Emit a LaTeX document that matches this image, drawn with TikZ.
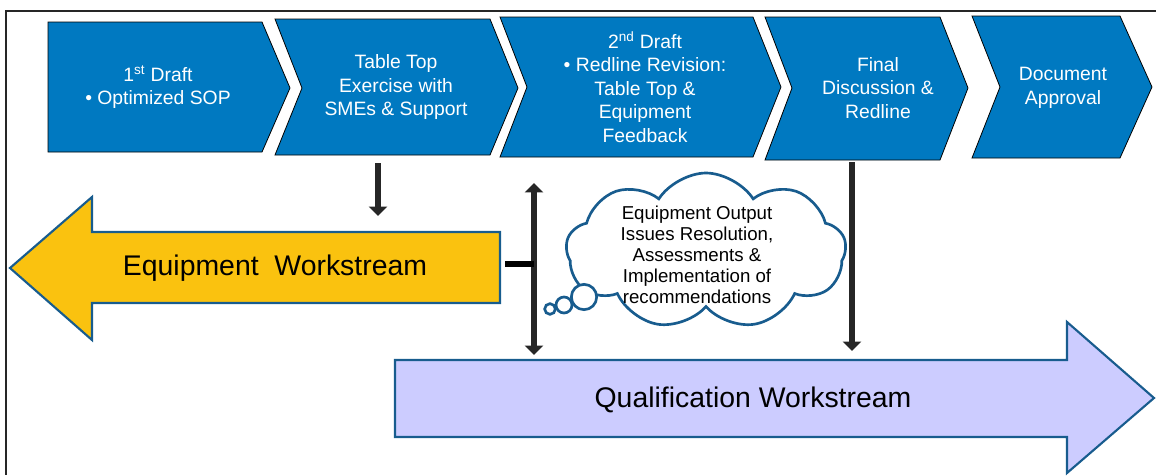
\documentclass[tikz,border=0pt]{standalone}
\usepackage{fontspec}
\setmainfont{Liberation Sans}
\usetikzlibrary{shapes.symbols,arrows.meta}
\definecolor{stepblue}{RGB}{0,121,193}
\definecolor{eqyellow}{RGB}{250,194,15}
\definecolor{qlav}{RGB}{204,204,255}
\definecolor{edgeblue}{RGB}{24,92,142}
\definecolor{darkarrow}{RGB}{38,38,38}
\tikzset{
  chev/.style={fill=stepblue,draw=black,line width=0.6pt,line join=miter},
  chevtext/.style={text=white,font=\fontsize{14.5}{17.6}\selectfont,align=center,inner sep=0pt},
  bigarrow/.style={draw=edgeblue,line width=1.6pt,line join=miter},
  bigtext/.style={font=\fontsize{21.3}{24}\selectfont,inner sep=0pt},
  flow/.style={draw=darkarrow,line width=4.5pt,-{Triangle[width=13.5pt,length=7pt]}},
  flowboth/.style={draw=darkarrow,line width=4.5pt,{Triangle[width=13.5pt,length=7pt]}-{Triangle[width=13.5pt,length=7pt]}},
  thought/.style={draw=edgeblue,line width=2pt,fill=white},
}
\begin{document}
\begin{tikzpicture}[x=0.75pt,y=-0.75pt]
\useasboundingbox (0,0) rectangle (1156,475);
% frame
\draw[line width=1.2pt,draw=black!85] (1156,11) -- (6,11) -- (6,475);

% process chevrons
\draw[chev] (48,22) -- (262,22) -- (290,88) -- (262,152) -- (48,152) -- cycle;
\draw[chev] (275,19) -- (490,19) -- (518,88) -- (490,155) -- (275,155) -- (302,88) -- cycle;
\draw[chev] (500,17) -- (753,17) -- (781,87) -- (753,157) -- (500,157) -- (527,87) -- cycle;
\draw[chev] (765,17) -- (940,17) -- (968,88) -- (940,160) -- (765,160) -- (792,88) -- cycle;
\draw[chev] (972,16) -- (1120,16) -- (1152,87) -- (1120,158) -- (972,158) -- (1000,87) -- cycle;

\node[chevtext] (c1) at (158,87) {1\textsuperscript{st} Draft\\\textbullet\ Optimized SOP};
\node[chevtext] (c2) at (396,87) {Table Top\\Exercise with\\SMEs \& Support};
\node[chevtext] (c3) at (645,87) {2\textsuperscript{nd} Draft\\\textbullet\ Redline Revision:\\Table Top \&\\Equipment\\Feedback};
\node[chevtext] (c4) at (878,88) {Final\\Discussion \&\\Redline};
\node[chevtext] (c5) at (1063,88) {Document\\Approval};

% equipment workstream (left arrow)
\draw[bigarrow,fill=eqyellow] (10,268) -- (92,197) -- (92,232) -- (500,232) -- (500,303) -- (92,303) -- (92,340) -- cycle;
\node[bigtext] (eq) at (275,268) {Equipment\ \ Workstream};

% qualification workstream (right arrow)
\draw[bigarrow,fill=qlav] (1154,398) -- (1067,322) -- (1067,360) -- (395,360) -- (395,437) -- (1067,437) -- (1067,473) -- cycle;
\node[bigtext] (qu) at (753,400) {Qualification Workstream};

% thought cloud
\node[cloud,thought,cloud puffs=9,cloud puff arc=115,aspect=1.75,
      minimum width=210pt,minimum height=117pt,inner sep=0pt] (cl) at (706,251) {};
\node[font=\fontsize{14}{15.8}\selectfont,align=center,inner sep=0pt] (cltext) at (697,255)
  {Equipment Output\\Issues Resolution,\\Assessments \&\\Implementation of\\recommendations};
\draw[thought] (584,297) circle[radius=9.5pt];
\draw[thought] (564,305) circle[radius=6pt];
\draw[thought] (550,309) circle[radius=4pt];

% connectors
\coordinate (a1s) at (378,163);
\coordinate (a1e) at (378,216);
\coordinate (a2s) at (534,183);
\coordinate (a2e) at (534,355);
\coordinate (a3s) at (852,162);
\coordinate (a3e) at (852,351);
\coordinate (bars) at (505,264);
\coordinate (bare) at (534,264);
\draw[flow] (a1s) -- (a1e);
\draw[flowboth] (a2s) -- (a2e);
\draw[flow] (a3s) -- (a3e);
\draw[line width=4.5pt,draw=black] (bars) -- (bare);
\end{tikzpicture}
\end{document}
